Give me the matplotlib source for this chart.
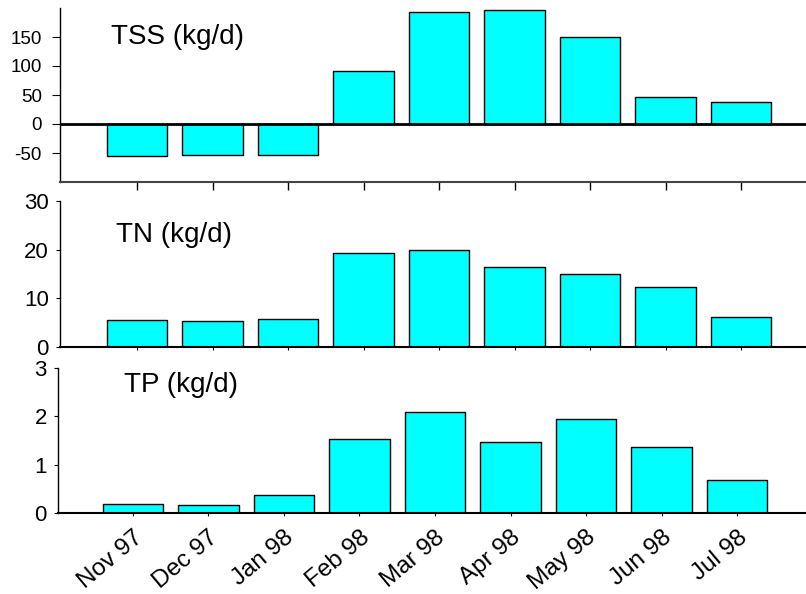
import matplotlib
matplotlib.use("Agg")
import matplotlib.pyplot as plt

months = ["Nov 97", "Dec 97", "Jan 98", "Feb 98", "Mar 98",
          "Apr 98", "May 98", "Jun 98", "Jul 98"]
tss = [-55, -53, -53, 91, 193, 196, 150, 47, 38]
tn = [5.6, 5.3, 5.7, 19.3, 19.9, 16.5, 15.1, 12.4, 6.1]
tp = [0.19, 0.17, 0.38, 1.54, 2.10, 1.47, 1.95, 1.37, 0.68]

plt.rcParams['font.family'] = ['Liberation Sans', 'DejaVu Sans']
plt.rcParams['axes.unicode_minus'] = False

W, H = 806, 594
fig = plt.figure(figsize=(W / 100, H / 100), dpi=100)


def box(left, top, bottom, right=W):
    return [left / W, 1 - bottom / H, (right - left) / W, (bottom - top) / H]


ax1 = fig.add_axes(box(60, 8, 182))
ax2 = fig.add_axes(box(60, 201, 347))
ax3 = fig.add_axes(box(58, 368, 513))

x = list(range(len(months)))
bar_kw = dict(width=0.8, color='#00ffff', edgecolor='black', linewidth=1, zorder=2)

ax1.bar(x, tss, **bar_kw)
ax1.axhline(0, color='black', lw=2, zorder=3)
ax1.set_ylim(-100, 200)
ax1.set_yticks([-50, 0, 50, 100, 150])
ax1.set_xlim(-1.02, 8.86)
ax1.tick_params(axis='y', labelsize=13.5, length=6, pad=7)
ax1.tick_params(axis='x', length=6, width=1, labelbottom=False)

ax2.bar(x, tn, **bar_kw)
ax2.set_ylim(0, 30)
ax2.set_yticks([0, 10, 20, 30])
ax2.set_xlim(-1.02, 8.86)
ax2.tick_params(axis='y', labelsize=16, length=3, pad=5)
ax2.tick_params(axis='x', length=2.5, labelbottom=False)

ax3.bar(x, tp, **bar_kw)
ax3.set_ylim(0, 3)
ax3.set_yticks([0, 1, 2, 3])
ax3.set_xlim(-0.99, 8.91)
ax3.tick_params(axis='y', labelsize=16, length=3, pad=5)
ax3.tick_params(axis='x', length=2.5, pad=7)

for ax in (ax1, ax2, ax3):
    ax.spines['top'].set_visible(False)
    ax.spines['right'].set_visible(False)
    ax.spines['left'].set_linewidth(1)
    ax.spines['bottom'].set_linewidth(1.5)
    ax.set_xticks(x)
ax3.set_xticklabels(months, rotation=40, ha='right', va='top',
                    rotation_mode='anchor', fontsize=17.5)
ax1.spines['bottom'].set_color('#444444')

# panel labels (pixel positions measured from the top)
fig.text(111 / W, 1 - 37 / H, "TSS (kg/d)", fontsize=20, va='center')
fig.text(116 / W, 1 - 235 / H, "TN (kg/d)", fontsize=20, va='center')
fig.text(124 / W, 1 - 385 / H, "TP (kg/d)", fontsize=20, va='center')

fig.savefig("out.png", dpi=100)
